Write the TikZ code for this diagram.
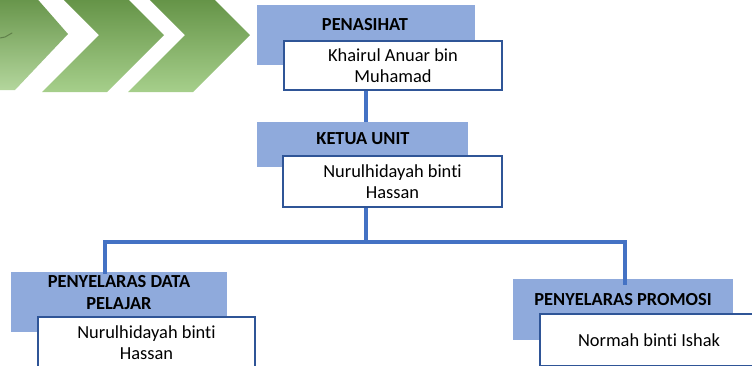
\documentclass[tikz,border=0pt]{standalone}
\usepackage{fontspec}
\setmainfont{Carlito}[Ligatures={NoCommon}]
\definecolor{rolefill}{HTML}{8FAADC}
\definecolor{namedraw}{HTML}{2F5597}
\definecolor{linkblue}{HTML}{4472C4}
\definecolor{chevtop}{HTML}{568638}
\definecolor{chevmid}{HTML}{548235}
\definecolor{chevbot}{HTML}{A6CF8B}
\tikzset{
  rolebox/.style={fill=rolefill, draw=none, inner sep=0pt, rectangle},
  roletitle/.style={font=\fontsize{18.4}{21.5}\selectfont\bfseries, align=center, inner sep=0pt},
  namebox/.style={fill=white, draw=namedraw, line width=1.8pt, rectangle, inner sep=0pt,
                  align=center, font=\fontsize{18.4}{21.5}\selectfont},
  conn/.style={draw=linkblue, line width=3.2pt, line join=miter},
  chevron/.style={top color=chevtop, middle color=chevmid, bottom color=chevbot}
}
\begin{document}
\begin{tikzpicture}[x=1pt, y=-1pt]
\useasboundingbox (0,0) rectangle (752,365);
\clip (0,0) rectangle (752,365);

% decorative chevrons
\shade[chevron, bottom color=chevbot!85!white] (-60,-22) -- (19,-22) -- (68,34) -- (15,90) -- (-60,90) -- cycle;
\shade[chevron] (42,-22) -- (107,-22) -- (164,35) -- (107,92) -- (42,92) -- (99,35) -- cycle;
\shade[chevron] (128,-22) -- (193,-22) -- (250,35) -- (193,92) -- (128,92) -- (185,35) -- cycle;
\draw[black!55!chevmid, opacity=0.4, line width=1pt, line cap=round] (0,38) -- (5,37) -- (12,33);

% role boxes
\node[rolebox, minimum width=218pt, minimum height=60pt] (pb) at (366,35) {};
\node[rolebox, minimum width=211pt, minimum height=45pt] (kb) at (362.5,144.5) {};
\node[rolebox, minimum width=216pt, minimum height=60pt] (db) at (119,302) {};
\node[rolebox, minimum width=220pt, minimum height=61pt] (rb) at (623,309.5) {};

\node[roletitle] (pt) at (365,25) {PENASIHAT};
\node[roletitle] (kt) at (363,139) {KETUA UNIT};
\node[roletitle] (dt) at (119,292.5) {PENYELARAS DATA\\PELAJAR};
\node[roletitle] (rt) at (623,300) {PENYELARAS PROMOSI};

% connectors
\coordinate (bus) at (366,242);
\coordinate (busL) at (105,242);
\coordinate (busR) at (625,242);
\coordinate (dropL) at (105,274);
\coordinate (dropR) at (625,285);
\draw[conn] (pb.south) -- (kb.north -| pb.south);
\draw[conn] (kb.south -| pb.south) -- (bus);
\draw[conn] (dropL) -- (busL) -- (busR) -- (dropR);

% name boxes
\node[namebox, minimum width=218pt, minimum height=49pt] (pw) at (393,65.5) {Khairul Anuar bin\\Muhamad};
\node[namebox, minimum width=219pt, minimum height=51pt] (kw) at (392.5,181.5) {Nurulhidayah binti\\Hassan};
\node[namebox, minimum width=217pt, minimum height=51pt] (dw) at (146.5,342.5) {Nurulhidayah binti\\Hassan};
\node[namebox, minimum width=218pt, minimum height=52pt] (rw) at (649,340) {Normah binti Ishak};
\end{tikzpicture}
\end{document}
